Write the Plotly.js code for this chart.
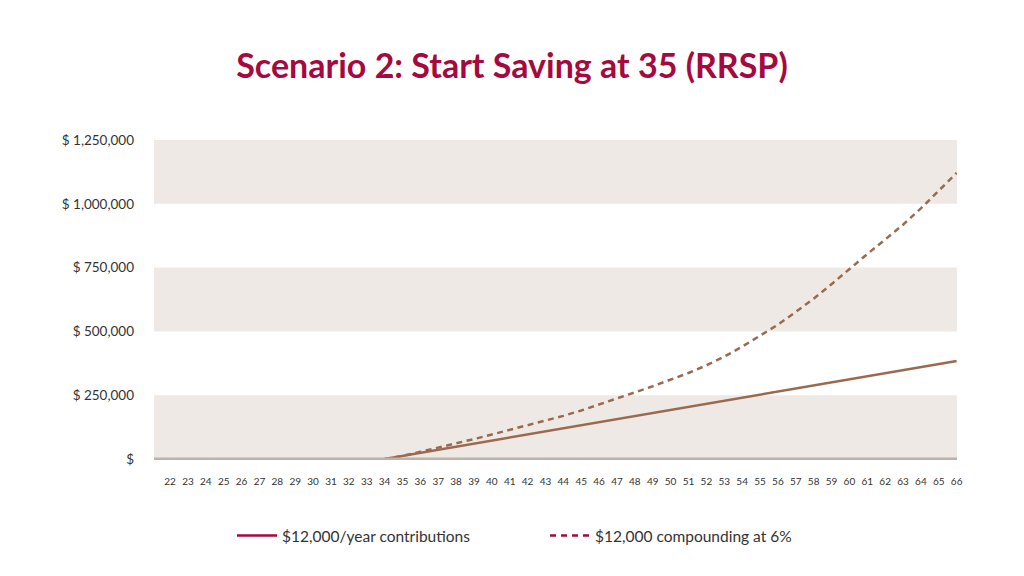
<!DOCTYPE html>
<html>
<head>
<meta charset="utf-8">
<script src="https://cdn.plot.ly/plotly-3.0.1.min.js"></script>
<style>html,body{margin:0;padding:0;background:#fff;}#chart{width:1024px;height:576px;}</style>
</head>
<body>
<div id="chart"></div>
<script>
var ages = [34,35,36,37,38,39,40,41,42,43,44,45,46,47,48,49,50,51,52,53,54,55,56,57,58,59,60,61,62,63,64,65,66];
var contributions = [0,12000,24000,36000,48000,60000,72000,84000,96000,108000,120000,132000,144000,156000,168000,180000,192000,204000,216000,228000,240000,252000,264000,276000,288000,300000,312000,324000,336000,348000,360000,372000,384000];
var compounding = [0,12000,28000,44000,61000,78000,96000,114000,132000,150000,169000,190000,213000,237000,261000,285000,310000,337000,367000,401000,440000,482000,526000,576000,628000,685000,745000,803000,860000,918000,982000,1050000,1121000];
var xTickVals = [22,23,24,25,26,27,28,29,30,31,32,33,34,35,36,37,38,39,40,41,42,43,44,45,46,47,48,49,50,51,52,53,54,55,56,57,58,59,60,61,62,63,64,65,66];
var yTickVals = [0,250000,500000,750000,1000000,1250000];
var yTickText = ["$","$ 250,000","$ 500,000","$ 750,000","$ 1,000,000","$ 1,250,000"];
var seriesNames = ["$12,000/year contributions","$12,000 compounding at 6%"];

var lineColor = "#9a6a4f";
var accent = "#a6093d";
var font = "Lato, 'Noto Sans', sans-serif";

var traces = [
  {x: ages, y: contributions, type: "scatter", mode: "lines", showlegend: false,
   line: {color: lineColor, width: 2.5}},
  {x: ages, y: compounding, type: "scatter", mode: "lines", showlegend: false,
   line: {color: lineColor, width: 2.5, dash: "6px,4.5px"}},
  {x: [null], y: [null], type: "scatter", mode: "lines", name: seriesNames[0],
   line: {color: accent, width: 2.5}},
  {x: [null], y: [null], type: "scatter", mode: "lines", name: seriesNames[1],
   line: {color: accent, width: 2.5, dash: "6px,5px"}}
];

var shapes = [];
for (var i = 0; i + 1 < yTickVals.length; i += 2) {
  shapes.push({type: "rect", xref: "paper", yref: "y", x0: 0, x1: 1,
    y0: yTickVals[i], y1: yTickVals[i + 1], fillcolor: "#efe9e5", line: {width: 0}, layer: "below"});
}
shapes.push({type: "line", xref: "paper", yref: "y", x0: 0, x1: 1, y0: 0, y1: 0,
  line: {color: "#bdb1ac", width: 3}, layer: "above"});

var layout = {
  width: 1024, height: 576,
  margin: {l: 154, r: 67, t: 140, b: 116},
  paper_bgcolor: "#ffffff", plot_bgcolor: "#ffffff",
  font: {family: font, color: "#333333"},
  title: {text: "<b>Scenario 2: Start Saving at 35 (RRSP)</b>", font: {family: font, size: 34, color: accent},
    x: 0.5, xanchor: "center", xref: "container", y: 1 - 66/576, yref: "container", yanchor: "middle"},
  xaxis: {range: [21.1, 66.02], tickvals: xTickVals, tickmode: "array", showgrid: false, zeroline: false,
    showline: false, ticks: "", ticklabelstandoff: 14, tickfont: {size: 10, color: "#333333"}, tickangle: 0},
  yaxis: {range: [-4000, 1250000], tickvals: yTickVals, ticktext: yTickText, tickmode: "array",
    showgrid: false, zeroline: false, showline: false, ticks: "", ticklabelstandoff: 19,
    tickfont: {size: 13.5, color: "#333333"}},
  shapes: shapes,
  showlegend: true,
  legend: {orientation: "h", xref: "container", yref: "container", x: 232/1024, xanchor: "left",
    y: 1 - 536/576, yanchor: "middle", entrywidth: 258, entrywidthmode: "pixels", itemwidth: 40,
    font: {size: 15.5, color: "#333333", family: font}, bgcolor: "rgba(0,0,0,0)"}
};

Plotly.newPlot("chart", traces, layout, {staticPlot: true, displayModeBar: false});
</script>
</body>
</html>
